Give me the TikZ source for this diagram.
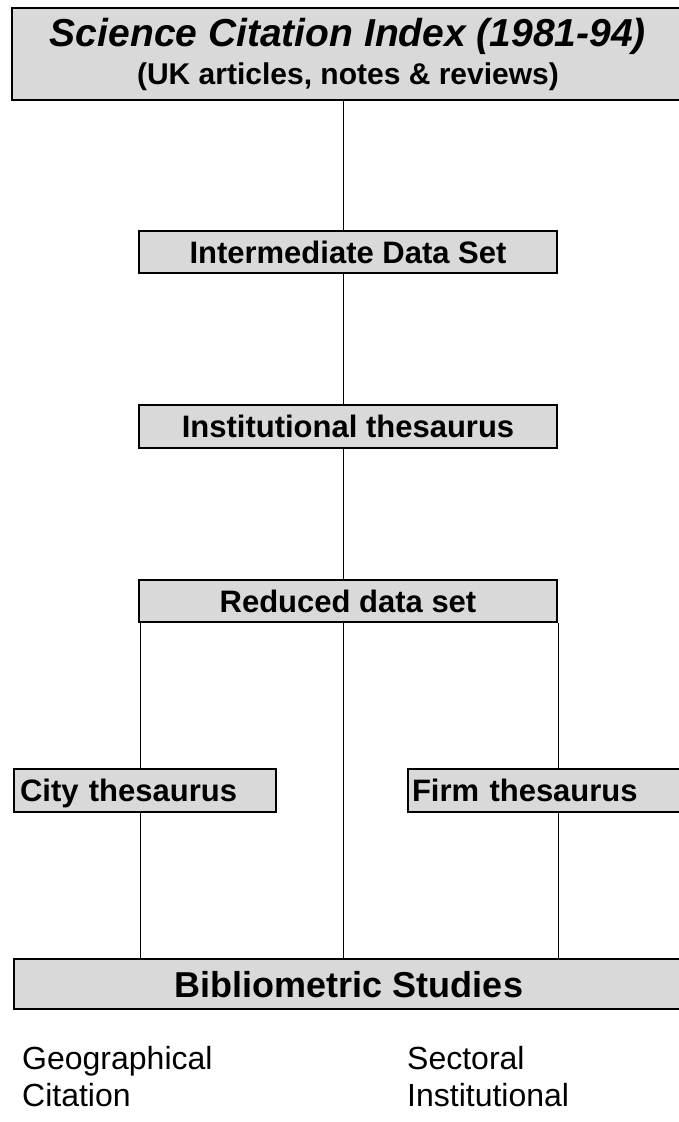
\documentclass[tikz,border=0pt]{standalone}
\usepackage{fontspec}
\setmainfont{Liberation Sans}
\usetikzlibrary{positioning}

\begin{document}
\begin{tikzpicture}[x=1pt,y=-1pt,
  box/.style={draw,line width=2.2pt,fill=black!15,inner sep=0pt,
    text height=22pt,text depth=0pt,
    font=\bfseries\fontsize{31}{36}\selectfont},
  link/.style={line width=0.8pt},
  note/.style={anchor=base west,inner sep=0pt,font=\fontsize{32}{36}\selectfont}]
\useasboundingbox (0,0) rectangle (679,1122);
\clip (0,0) rectangle (679,1122);
% boxes
\node[box,minimum width=672,minimum height=92,align=center,text height=,text depth=] (sci) at (348,54)
  {{\itshape\fontsize{39}{44}\selectfont Science Citation Index (1981-94)}\\[2pt]
   {\fontsize{30}{36}\selectfont (UK articles, notes \& reviews)}};
\node[box,minimum width=418,minimum height=42] (inter) at (348,252) {Intermediate Data Set};
\node[box,minimum width=418,minimum height=43] (inst) at (348,426.5) {Institutional thesaurus};
\node[box,minimum width=418,minimum height=42] (red) at (348,601) {Reduced data set};
\node[box,minimum width=262,minimum height=43,text width=250,align=left] (city) at (145,790.5) {City thesaurus};
\node[box,minimum width=276,minimum height=43,text width=268,align=left] (firm) at (546,790.5) {Firm thesaurus};
\node[box,minimum width=670,minimum height=50,text height=26pt,text depth=0pt,
  font=\bfseries\fontsize{36}{40}\selectfont] (bib) at (349,984) {Bibliometric Studies};
% links
\draw[link] ([xshift=-5pt]sci.south) -- ([xshift=-5pt]inter.north);
\draw[link] ([xshift=-5pt]inter.south) -- ([xshift=-5pt]inst.north);
\draw[link] ([xshift=-5pt]inst.south) -- ([xshift=-5pt]red.north);
\draw[link] ([xshift=-5pt]red.south) -- ([xshift=-5pt]red.south |- bib.north);
\draw[link] ([xshift=2pt]red.south west) -- ([xshift=2pt]red.south west |- city.north);
\draw[link] ([xshift=2pt]red.south west |- city.south) -- ([xshift=2pt]red.south west |- bib.north);
\draw[link] (red.south east) -- (red.south east |- firm.north);
\draw[link] (red.south east |- firm.south) -- (red.south east |- bib.north);
% study types
\node[note] (geo) at (22,1069) {Geographical};
\node[note] (cit) at (22,1106) {Citation};
\node[note] (sec) at (407,1069) {Sectoral};
\node[note] (ins) at (407,1106) {Institutional};
\end{tikzpicture}
\end{document}
